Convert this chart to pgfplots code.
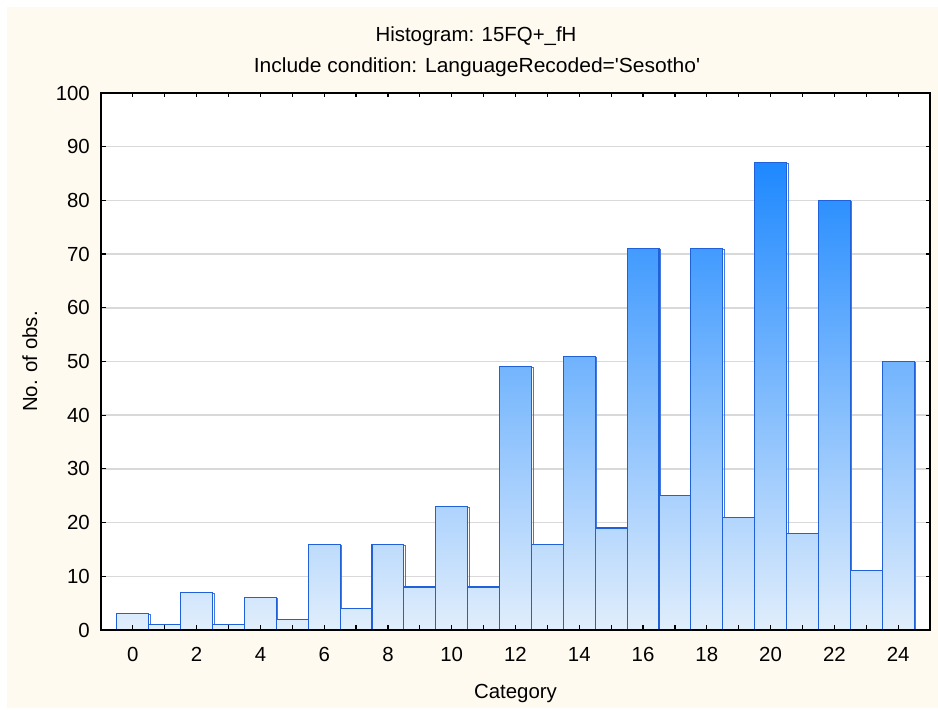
\documentclass[border=0pt]{standalone}
\usepackage{pgfplots}
\pgfplotsset{compat=1.18}
\usepackage{fontspec}
\setmainfont{Liberation Sans}
\newfontfamily\plainsans{Liberation Sans}
\definecolor{cream}{RGB}{255,250,240}
\definecolor{cTop}{RGB}{1,121,255}
\definecolor{cBot}{RGB}{225,238,252}
\definecolor{barEdge}{RGB}{32,96,216}
\definecolor{barShadow}{RGB}{70,120,225}
\definecolor{gridc}{RGB}{217,217,217}
\pgfplotsset{
  frameaxis/.style={
    at={(101pt,78pt)}, anchor=south west,
    width=829pt, height=537pt, scale only axis,
    xmin=-1, xmax=25, ymin=0, ymax=100,
    xtick={0,2,...,24}, minor xtick={1,3,...,23},
    ytick={0,10,...,100},
    tick align=inside,
    major tick length=4.5pt, minor tick length=4.5pt,
    tick style={black, line width=1.2pt},
    axis line style={black, line width=1.8pt},
    /pgf/number format/assume math mode=true,
  }
}
\begin{document}
\fontsize{20.4}{24}\selectfont
\begin{tikzpicture}
\path (0,0) rectangle (938pt,708pt);
\fill[cream] (7pt,0) rectangle (938pt,701pt);
\begin{axis}[frameaxis,
  axis background/.style={fill=white},
  ymajorgrids, grid style={gridc, line width=1.5pt},
  xticklabel style={inner sep=0pt, anchor=north, yshift=-17pt},
  yticklabel style={inner sep=0pt, anchor=east, xshift=-11pt},
]
% shadow outline
\addplot[ybar, bar width=1, bar shift=0pt, draw=barShadow, line width=0.8pt, xshift=1.5pt, yshift=-1pt]
  coordinates {(0,3) (1,1) (2,7) (3,1) (4,6) (5,2) (6,16) (7,4) (8,16) (9,8) (10,23) (11,8) (12,49) (13,16) (14,51) (15,19) (16,71) (17,25) (18,71) (19,21) (20,87) (21,18) (22,80) (23,11) (24,50)};
\foreach \x/\h in {0/3,1/1,2/7,3/1,4/6,5/2,6/16,7/4,8/16,9/8,10/23,11/8,12/49,13/16,14/51,15/19,16/71,17/25,18/71,19/21,20/87,21/18,22/80,23/11,24/50}{
  \edef\temp{\noexpand\addplot[ybar, bar width=1, bar shift=0pt, draw=barEdge, line width=1.1pt, bottom color=cBot, top color=cTop!\h!cBot] coordinates {(\x,\h)};}
  \temp
}
\end{axis}
\begin{axis}[frameaxis, xticklabels={}, yticklabels={}]
\end{axis}
\node[anchor=base] at (476pt,666pt) {Histogram: 15FQ+\_fH};
\node[anchor=base, xscale=1.03] at (477pt,635.5pt) {\plainsans Include condition: LanguageRecoded='Sesotho'};
\node[anchor=base] at (515.5pt,9.5pt) {Category};
\node[anchor=base, rotate=90] at (37pt,346.5pt) {No. of obs.};
\end{tikzpicture}
\end{document}
